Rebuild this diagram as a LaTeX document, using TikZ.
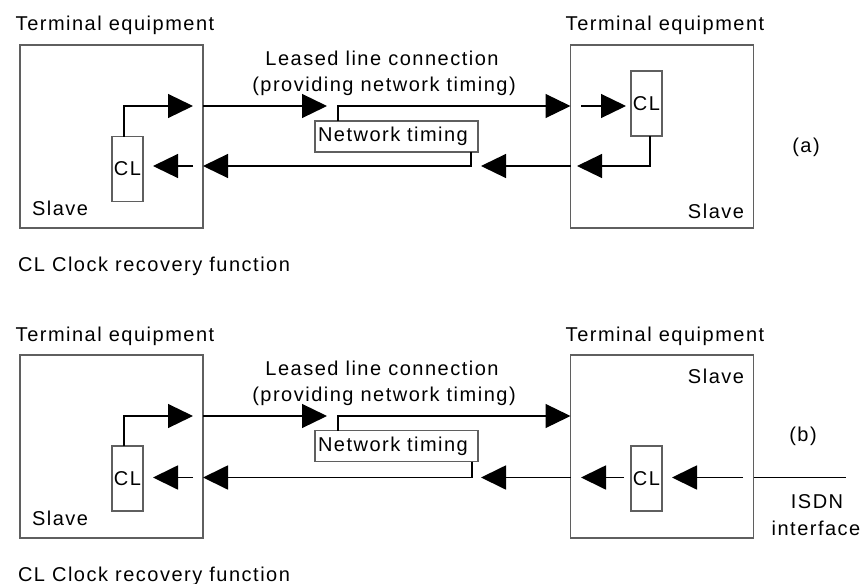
\documentclass[tikz,border=0pt]{standalone}
\usepackage{fontspec}
\setmainfont{Liberation Sans}[LetterSpace=7.5]
\usetikzlibrary{arrows.meta}
\definecolor{boxgray}{RGB}{95,95,95}

\begin{document}
\begin{tikzpicture}[x=1pt,y=-1pt,
  every node/.style={font=\fontsize{20}{24}\selectfont, inner sep=0pt, outer sep=0pt},
  tebox/.style={draw=boxgray, line width=1.3pt, minimum width=183pt, minimum height=183pt},
  clbox/.style={draw=boxgray, line width=1.2pt, minimum width=31pt, minimum height=65pt},
  ntbox/.style={draw=boxgray, line width=1.2pt, minimum width=163pt, minimum height=31pt,
                text width=157pt, align=left},
  sig/.style={line width=1.2pt},
  fwd/.style={sig, -{Triangle[length=25pt,width=24pt]}},
  heavy/.style={line width=1.8pt},
  lbl/.style={anchor=base},
]
\useasboundingbox (0,0) rectangle (863,584);

% ---------------- (a) ----------------
\node[tebox] (teLa) at (111.5,136.5) {};
\node[tebox] (teRa) at (662,136.5) {};
\node[clbox] (clLa) at (127.5,169) {CL};
\node[clbox] (clRa) at (646.5,103.5) {CL};
\node[ntbox] (nta) at (396.5,136.5) {Network timing};

\node[lbl] (tLa) at (115,30) {Terminal equipment};
\node[lbl] (tRa) at (665,30) {Terminal equipment};
\node[lbl] (lla) at (382,65) {Leased line connection};
\node[lbl] (pna) at (384,91.7) {(providing network timing)};
\node[anchor=base west] (sLa) at (32,215) {Slave};
\node[anchor=base east] (sRa) at (744,218) {Slave};
\node[lbl] (laba) at (806,152) {(a)};
\node[anchor=base west] (keya) at (18,271.5) {CL Clock recovery function};

\coordinate (a-up)  at (193,106);
\coordinate (a-mid) at (327,106);
\coordinate (a-in)  at (581,106);
\coordinate (a-rb)  at (577,166);
\coordinate (a-nb)  at (481,166);
\coordinate (a-lb)  at (193,166);

\draw[fwd] ([xshift=-3.5pt]clLa.north) |- (a-up);
\draw[fwd] (teLa.east |- a-up) -- (a-mid);
\draw[fwd] ([xshift=-58.5pt]nta.north) |- (teRa.west |- a-up);
\draw[fwd, shorten >=5pt] (a-in) -- (clRa.west |- a-in);
\draw[fwd] ([xshift=3.5pt]clRa.south) |- (a-rb);
\draw[fwd] (teRa.west |- a-rb) -- (a-nb);
\draw[fwd] ([xshift=74.5pt]nta.south) |- (teLa.east |- a-rb);
\draw[fwd, shorten >=10pt] (a-lb) -- (clLa.east |- a-lb);

% ---------------- (b) ----------------
\begin{scope}[yshift=-310pt]
\node[tebox] (teLb) at (111.5,136.5) {};
\node[tebox] (teRb) at (662,136.5) {};
\node[clbox] (clLb) at (127.5,168.5) {CL};
\node[clbox] (clRb) at (646.5,168.5) {CL};
\node[ntbox] (ntb) at (396.5,136) {Network timing};

\node[lbl] (tLb) at (115,31) {Terminal equipment};
\node[lbl] (tRb) at (665,31) {Terminal equipment};
\node[lbl] (llb) at (382,65) {Leased line connection};
\node[lbl] (pnb) at (384,91.7) {(providing network timing)};
\node[anchor=base west] (sLb) at (32,215) {Slave};
\node[anchor=base east] (sRb) at (744,73) {Slave};
\node[lbl] (labb) at (803,131.7) {(b)};
\node[lbl] (isdn) at (817,198) {ISDN};
\node[lbl] (intf) at (816,225) {interface};
\node[anchor=base west] (keyb) at (18,271) {CL Clock recovery function};

\coordinate (b-up)   at (193,106);
\coordinate (b-mid)  at (327,106);
\coordinate (b-rb)   at (581,167.5);
\coordinate (b-in)   at (743,167.5);
\coordinate (b-ext)  at (846,167.5);
\coordinate (b-nb)   at (481,167.5);
\coordinate (b-lb)   at (193,167.5);

\draw[fwd] ([xshift=-3.5pt]clLb.north) |- (b-up);
\draw[fwd] (teLb.east |- b-up) -- (b-mid);
\draw[fwd] ([xshift=-58.5pt]ntb.north) |- (teRb.west |- b-up);
\draw[fwd, heavy] ([xshift=-7pt]clRb.west |- b-rb) -- (b-rb);
\draw[fwd, heavy, shorten >=10pt] (b-in) -- (clRb.east |- b-in);
\draw[heavy] (teRb.east |- b-rb) -- (b-ext);
\draw[fwd, heavy] (teRb.west |- b-rb) -- (b-nb);
\draw[fwd, heavy] ([xshift=75.5pt]ntb.south) |- (teLb.east |- b-rb);
\draw[fwd, heavy, shorten >=10pt] (b-lb) -- (clLb.east |- b-lb);
\end{scope}
\end{tikzpicture}
\end{document}
